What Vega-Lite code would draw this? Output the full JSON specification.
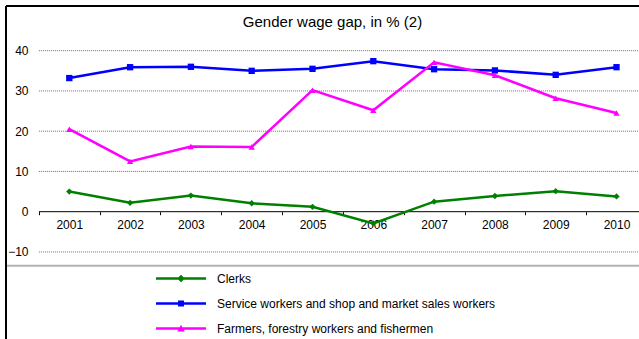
{
  "$schema": "https://vega.github.io/schema/vega-lite/v6.json",
  "width": 633,
  "height": 333,
  "autosize": {"type": "none"},
  "padding": {"left": 6, "top": 6, "right": 0, "bottom": 0},
  "background": "white",
  "config": {"view": {"stroke": null}, "font": "Liberation Sans"},
  "title": {"text": "Gender wage gap, in %  (2)", "fontSize": 15, "fontWeight": "normal", "font": "Liberation Sans", "color": "black", "anchor": "middle", "frame": "group", "offset": -25, "dx": 10},
  "resolve": {"scale": {"shape": "independent", "color": "independent"}},
  "datasets": {
    "main": [
      {"series": "Clerks", "year": 2001, "value": 5.0},
      {"series": "Clerks", "year": 2002, "value": 2.2},
      {"series": "Clerks", "year": 2003, "value": 4.0},
      {"series": "Clerks", "year": 2004, "value": 2.1},
      {"series": "Clerks", "year": 2005, "value": 1.2},
      {"series": "Clerks", "year": 2006, "value": -2.9},
      {"series": "Clerks", "year": 2007, "value": 2.5},
      {"series": "Clerks", "year": 2008, "value": 3.9},
      {"series": "Clerks", "year": 2009, "value": 5.1},
      {"series": "Clerks", "year": 2010, "value": 3.8},
      {"series": "Service workers and shop and market sales workers", "year": 2001, "value": 33.2},
      {"series": "Service workers and shop and market sales workers", "year": 2002, "value": 35.9},
      {"series": "Service workers and shop and market sales workers", "year": 2003, "value": 36.0},
      {"series": "Service workers and shop and market sales workers", "year": 2004, "value": 35.0},
      {"series": "Service workers and shop and market sales workers", "year": 2005, "value": 35.5},
      {"series": "Service workers and shop and market sales workers", "year": 2006, "value": 37.4},
      {"series": "Service workers and shop and market sales workers", "year": 2007, "value": 35.4},
      {"series": "Service workers and shop and market sales workers", "year": 2008, "value": 35.1},
      {"series": "Service workers and shop and market sales workers", "year": 2009, "value": 34.0},
      {"series": "Service workers and shop and market sales workers", "year": 2010, "value": 35.9},
      {"series": "Farmers, forestry workers and fishermen", "year": 2001, "value": 20.5},
      {"series": "Farmers, forestry workers and fishermen", "year": 2002, "value": 12.5},
      {"series": "Farmers, forestry workers and fishermen", "year": 2003, "value": 16.2},
      {"series": "Farmers, forestry workers and fishermen", "year": 2004, "value": 16.1},
      {"series": "Farmers, forestry workers and fishermen", "year": 2005, "value": 30.2},
      {"series": "Farmers, forestry workers and fishermen", "year": 2006, "value": 25.2},
      {"series": "Farmers, forestry workers and fishermen", "year": 2007, "value": 37.1},
      {"series": "Farmers, forestry workers and fishermen", "year": 2008, "value": 33.9},
      {"series": "Farmers, forestry workers and fishermen", "year": 2009, "value": 28.2},
      {"series": "Farmers, forestry workers and fishermen", "year": 2010, "value": 24.5}
    ],
    "grid": [{"v": -10}, {"v": 10}, {"v": 20}, {"v": 30}, {"v": 40}]
  },
  "layer": [
    {
      "data": {"name": "grid"},
      "mark": {"type": "rule", "color": "#707070", "strokeWidth": 1, "strokeDash": [1, 1]},
      "encoding": {
        "y": {"field": "v", "type": "quantitative", "scale": {"domain": [-31.63, 51.106], "nice": false, "zero": false},
          "axis": {"orient": "left", "values": [-10, 0, 10, 20, 30, 40], "grid": false, "domain": false, "ticks": false, "tickSize": 0, "labelAlign": "right", "labelBaseline": "middle", "labelPadding": -22, "labelFontSize": 12, "labelFont": "Liberation Sans", "labelColor": "black", "labelOverlap": false, "labelFlush": false, "title": null}},
        "x": {"datum": 2000.5, "type": "quantitative", "scale": {"domain": [1999.959, 2010.37], "nice": false, "zero": false},
          "axis": {"orient": "bottom", "offset": -127.3, "values": [2000.5, 2001.5, 2002.5, 2003.5, 2004.5, 2005.5, 2006.5, 2007.5, 2008.5, 2009.5], "labelExpr": "format(datum.value + 0.5, 'd')", "labelOffset": 30.4, "tickSize": 3, "tickColor": "black", "tickWidth": 1, "domain": false, "grid": false, "labelFontSize": 12, "labelFont": "Liberation Sans", "labelColor": "black", "labelPadding": 5, "labelFlush": false, "labelOverlap": false, "title": null}},
        "x2": {"datum": 2011}
      }
    },
    {
      "data": {"values": [{}]},
      "mark": {"type": "rule", "color": "#b3b3b3", "strokeWidth": 2},
      "encoding": {"y": {"datum": -13.42, "type": "quantitative"}}
    },
    {
      "data": {"values": [{}]},
      "mark": {"type": "rule", "color": "black", "strokeWidth": 2},
      "encoding": {"x": {"datum": 1999.959, "type": "quantitative"}}
    },
    {
      "data": {"values": [{}]},
      "mark": {"type": "rule", "color": "black", "strokeWidth": 2},
      "encoding": {"y": {"datum": 51.106, "type": "quantitative"}}
    },
    {
      "data": {"values": [{}]},
      "mark": {"type": "rule", "color": "black", "strokeWidth": 1},
      "encoding": {"y": {"datum": 0, "type": "quantitative"}, "x": {"datum": 2000.5, "type": "quantitative"}, "x2": {"datum": 2011}}
    },
    {
      "data": {"name": "main"},
      "mark": {"type": "line", "strokeWidth": 2.5},
      "encoding": {
        "x": {"field": "year", "type": "quantitative"},
        "y": {"field": "value", "type": "quantitative"},
        "color": {"field": "series", "type": "nominal", "legend": null, "scale": {"domain": ["Clerks", "Service workers and shop and market sales workers", "Farmers, forestry workers and fishermen"], "range": ["#008000", "#0000ff", "#ff00ff"]}}
      }
    },
    {
      "data": {"name": "main"},
      "mark": {"type": "point", "filled": true, "opacity": 1, "size": 40},
      "encoding": {
        "x": {"field": "year", "type": "quantitative"},
        "y": {"field": "value", "type": "quantitative"},
        "color": {"field": "series", "type": "nominal", "legend": null, "scale": {"domain": ["Clerks", "Service workers and shop and market sales workers", "Farmers, forestry workers and fishermen"], "range": ["#008000", "#0000ff", "#ff00ff"]}},
        "shape": {"field": "series", "type": "nominal", "legend": null, "scale": {"domain": ["Clerks", "Service workers and shop and market sales workers", "Farmers, forestry workers and fishermen"], "range": ["diamond", "square", "triangle-up"]}}
      }
    },
    {
      "data": {"name": "main"},
      "transform": [{"filter": "datum.year < 0"}],
      "mark": {"type": "point", "filled": true},
      "encoding": {
        "color": {"field": "series", "type": "nominal", "scale": {"domain": ["Clerks", "Service workers and shop and market sales workers", "Farmers, forestry workers and fishermen"], "range": ["#008000", "#0000ff", "#ff00ff"]},
          "legend": {"orient": "none", "legendX": 150, "legendY": 260, "title": null, "direction": "vertical", "symbolSize": 2500, "symbolOpacity": 1, "clipHeight": 25, "rowPadding": 0, "labelOffset": 11, "labelFontSize": 12, "labelFont": "Liberation Sans", "labelColor": "black", "labelLimit": 500, "padding": 0, "symbolStrokeWidth": 0}},
        "shape": {"field": "series", "type": "nominal", "scale": {"domain": ["Clerks", "Service workers and shop and market sales workers", "Farmers, forestry workers and fishermen"], "range": ["M-1,-0.05H1V0.05H-1ZM0,-0.15L0.15,0L0,0.15L-0.15,0Z", "M-1,-0.05H1V0.05H-1ZM-0.12,-0.12H0.12V0.12H-0.12Z", "M-1,-0.05H1V0.05H-1ZM0,-0.15L0.15,0.12H-0.15Z"]},
          "legend": {"orient": "none", "legendX": 150, "legendY": 260, "title": null, "direction": "vertical", "symbolSize": 2500, "symbolOpacity": 1, "clipHeight": 25, "rowPadding": 0, "labelOffset": 11, "labelFontSize": 12, "labelFont": "Liberation Sans", "labelColor": "black", "labelLimit": 500, "padding": 0, "symbolStrokeWidth": 0}}
      }
    }
  ]
}
